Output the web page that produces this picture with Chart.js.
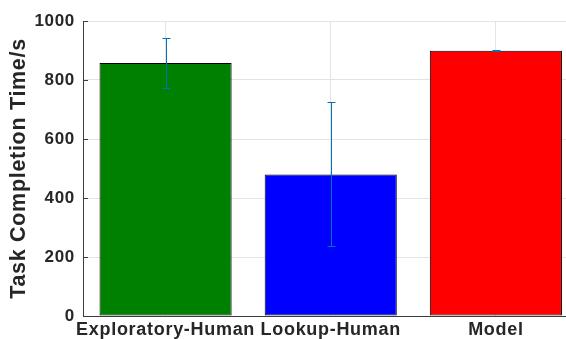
<!DOCTYPE html>
<html>
<head>
<meta charset="utf-8">
<script src="https://cdn.jsdelivr.net/npm/chart.js@4/dist/chart.umd.min.js"></script>
<style>
html,body{margin:0;padding:0;background:#fff;overflow:hidden;}
#wrap{width:566px;height:339px;}
</style>
</head>
<body>
<div id="wrap"><canvas id="c" width="566" height="339"></canvas></div>
<script>
const categories = ["Exploratory-Human", "Lookup-Human", "Model"];
const positions = [1, 2, 3];
const values = [858, 480, 899];
const errors = [86, 244, 1];
const barColors = ["#008000", "#0000ff", "#ff0000"];
const yTicks = [0, 200, 400, 600, 800, 1000];

const TEXT = "#262626";
const AXIS = "#3c3c3c";
const GRID = "#e3e3e3";
const ERR = "#0072bd";

const spacing = {
  id: "spacing",
  beforeDraw(chart) {
    if ("letterSpacing" in chart.ctx) chart.ctx.letterSpacing = "0.7px";
  }
};

const errorBars = {
  id: "errorBars",
  afterDatasetsDraw(chart) {
    const ctx = chart.ctx;
    const ys = chart.scales.y;
    const meta = chart.getDatasetMeta(0);
    ctx.save();
    ctx.strokeStyle = ERR;
    ctx.lineWidth = 1;
    meta.data.forEach((bar, i) => {
      const x = Math.round(bar.x) + 0.5;
      const t = Math.round(ys.getPixelForValue(values[i] + errors[i])) + 0.5;
      const b = Math.round(ys.getPixelForValue(values[i] - errors[i])) + 0.5;
      ctx.beginPath();
      ctx.moveTo(x, t); ctx.lineTo(x, b);
      ctx.moveTo(x - 4, t); ctx.lineTo(x + 4, t);
      ctx.moveTo(x - 4, b); ctx.lineTo(x + 4, b);
      ctx.stroke();
    });
    ctx.restore();
  }
};

const inwardTicks = {
  id: "inwardTicks",
  beforeDatasetsDraw(chart) {
    const ctx = chart.ctx;
    const ys = chart.scales.y;
    const left = chart.chartArea.left;
    ctx.save();
    ctx.strokeStyle = AXIS;
    ctx.lineWidth = 1;
    yTicks.forEach(v => {
      const y = Math.round(ys.getPixelForValue(v)) + 0.5;
      ctx.beginPath();
      ctx.moveTo(left, y); ctx.lineTo(left + 5, y);
      ctx.stroke();
    });
    ctx.restore();
  }
};

new Chart(document.getElementById("c"), {
  type: "bar",
  data: {
    datasets: [{
      data: positions.map((p, i) => ({ x: p, y: values[i] })),
      backgroundColor: barColors,
      borderColor: "#000",
      borderWidth: 1,
      borderSkipped: false,
      barPercentage: 0.8,
      categoryPercentage: 1.0
    }]
  },
  options: {
    responsive: false,
    animation: false,
    devicePixelRatio: 1,
    layout: { padding: { top: 21, right: 0, left: 0, bottom: 0 } },
    plugins: { legend: { display: false }, tooltip: { enabled: false } },
    scales: {
      x: {
        type: "linear",
        offset: false,
        min: 0.5,
        max: 0.5 + (567 - 83) / 165.5,
        afterBuildTicks(scale) { scale.ticks = positions.map(v => ({ value: v })); },
        afterFit(scale) { scale.height = 23; },
        grid: { color: GRID, drawTicks: false, lineWidth: 1, offset: false },
        border: { color: AXIS, width: 1 },
        ticks: {
          autoSkip: false,
          maxRotation: 0,
          padding: 3,
          color: TEXT,
          font: { family: "'Liberation Sans', Arial, sans-serif", size: 18, weight: "bold" },
          callback: (v) => { const i = positions.indexOf(v); return i >= 0 ? categories[i] : ""; }
        }
      },
      y: {
        min: 0,
        max: 1000,
        afterBuildTicks(scale) { scale.ticks = yTicks.map(v => ({ value: v })); },
        afterFit(scale) { scale.width = 83; },
        grid: { color: GRID, drawTicks: false, lineWidth: 1 },
        border: { color: AXIS, width: 1 },
        ticks: {
          padding: 8,
          color: TEXT,
          font: { family: "'Liberation Sans', Arial, sans-serif", size: 17, weight: "bold" },
          callback: (v) => String(v)
        },
        title: {
          display: true,
          text: "Task Completion Time/s",
          color: TEXT,
          padding: { top: 6, bottom: 0 },
          font: { family: "'Liberation Sans', Arial, sans-serif", size: 21.5, weight: "bold" }
        }
      }
    }
  },
  plugins: [spacing, inwardTicks, errorBars]
});
</script>
</body>
</html>
